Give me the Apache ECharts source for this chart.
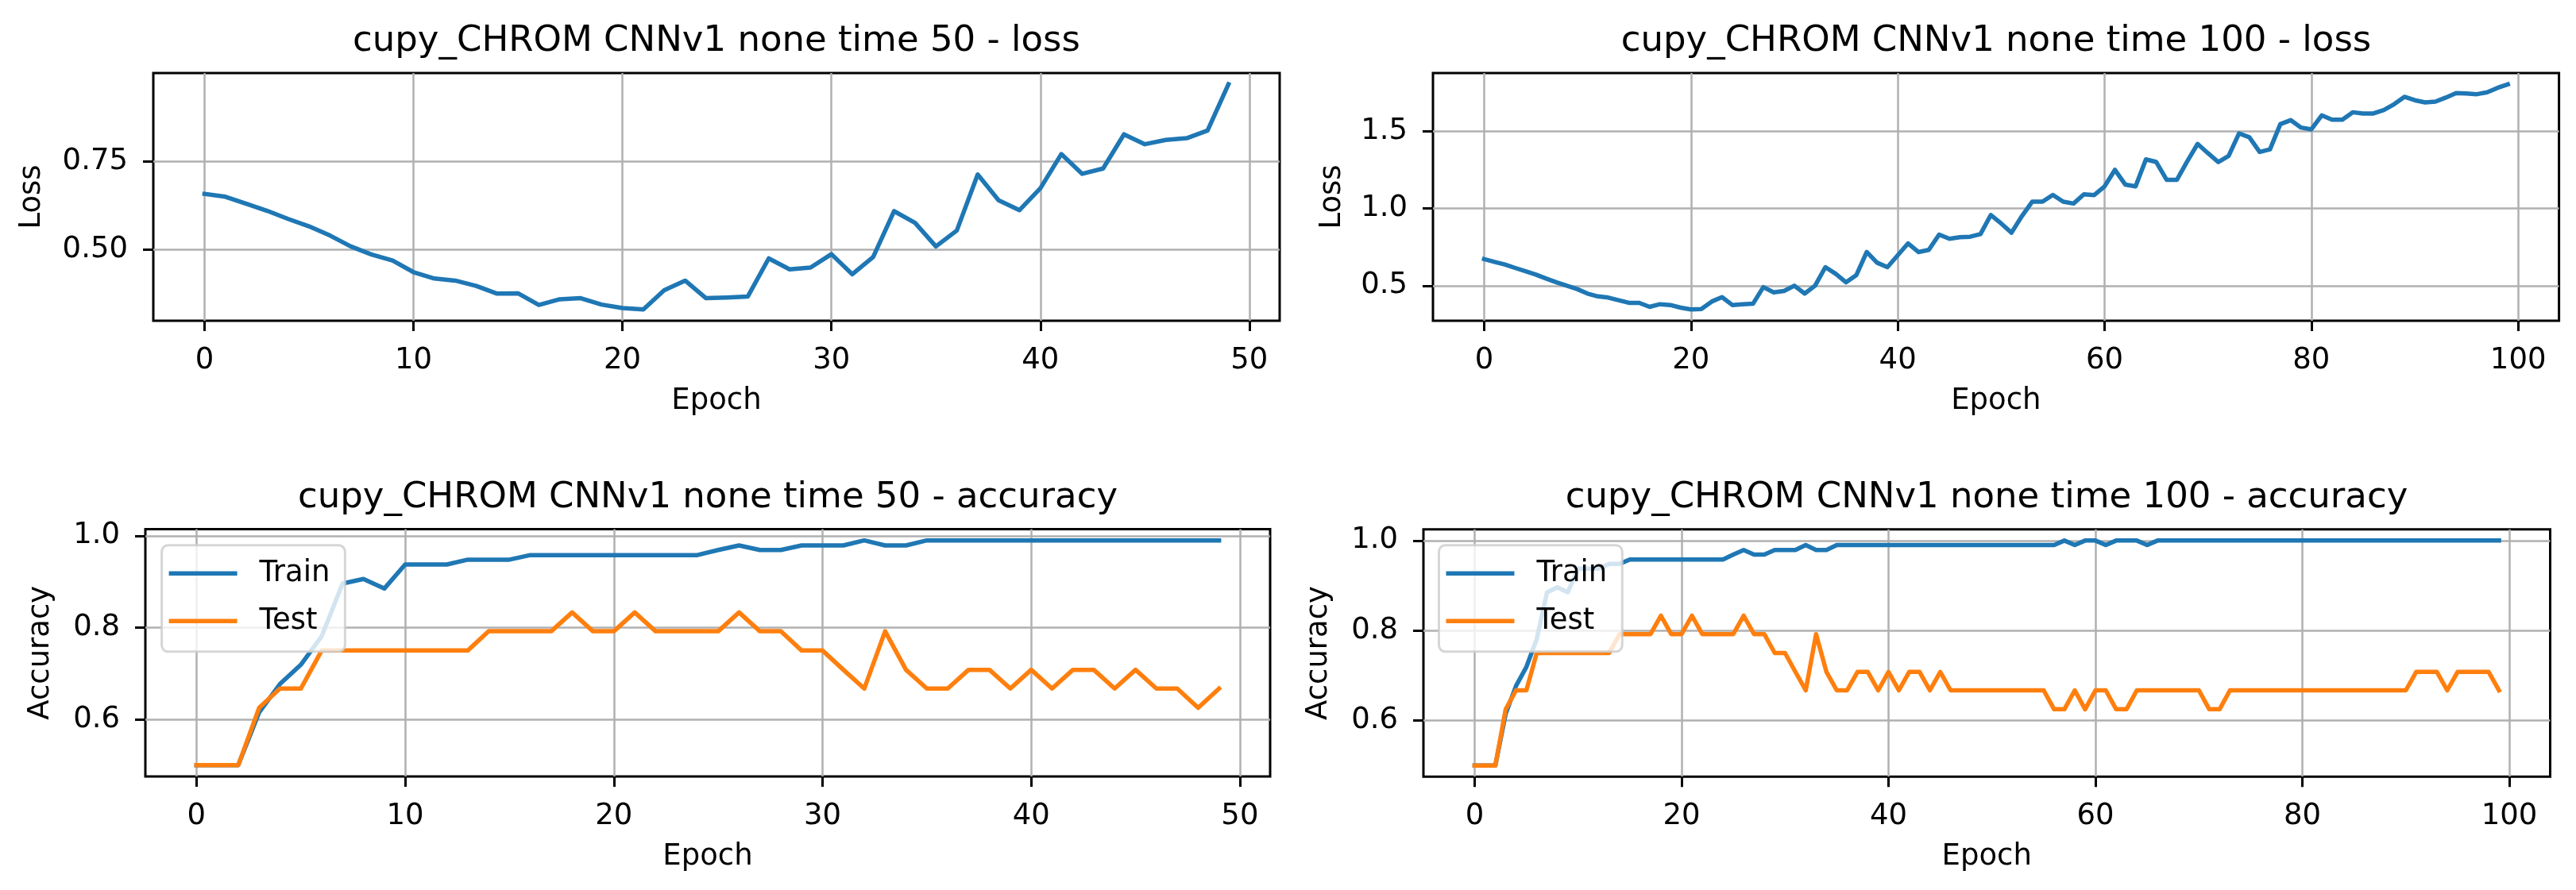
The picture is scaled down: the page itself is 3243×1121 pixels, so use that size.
<!DOCTYPE html>
<html><head><meta charset="utf-8">
<script src="https://cdn.jsdelivr.net/npm/echarts@6/dist/echarts.min.js"></script>
<style>html,body{margin:0;padding:0;background:#fff}#c{width:3243px;height:1121px}</style>
</head><body><div id="c"></div>
<script>
// ---------------- DATA ----------------
const titles = [
  'cupy_CHROM CNNv1 none time 50 - loss',
  'cupy_CHROM CNNv1 none time 100 - loss',
  'cupy_CHROM CNNv1 none time 50 - accuracy',
  'cupy_CHROM CNNv1 none time 100 - accuracy'
];
const xTicks50 = [0, 10, 20, 30, 40, 50];
const xTicks100 = [0, 20, 40, 60, 80, 100];
const yTicksLoss50 = [0.50, 0.75];
const yTicksLoss100 = [0.5, 1.0, 1.5];
const yTicksAcc = [0.6, 0.8, 1.0];

const loss50 = [0.658,0.650,0.630,0.610,0.587,0.566,0.540,0.509,0.486,0.469,
  0.436,0.418,0.412,0.397,0.375,0.376,0.343,0.359,0.362,0.344,
  0.334,0.330,0.385,0.412,0.362,0.364,0.367,0.475,0.444,0.449,
  0.487,0.430,0.479,0.609,0.576,0.509,0.554,0.713,0.640,0.612,
  0.674,0.771,0.715,0.730,0.827,0.799,0.811,0.816,0.838,0.969];

const loss100 = [0.672,0.654,0.637,0.615,0.594,0.572,0.546,0.522,0.500,0.478,
  0.449,0.431,0.423,0.406,0.389,0.389,0.363,0.380,0.375,0.358,
  0.346,0.349,0.397,0.426,0.375,0.380,0.383,0.491,0.457,0.466,
  0.500,0.449,0.500,0.620,0.577,0.522,0.569,0.718,0.649,0.620,
  0.697,0.774,0.718,0.732,0.831,0.804,0.814,0.817,0.834,0.958,
  0.903,0.843,0.950,1.044,1.044,1.088,1.044,1.032,1.092,1.087,
  1.143,1.250,1.155,1.143,1.318,1.301,1.186,1.186,1.306,1.418,
  1.358,1.301,1.340,1.486,1.461,1.366,1.383,1.546,1.572,1.524,
  1.512,1.603,1.575,1.575,1.623,1.615,1.615,1.637,1.675,1.723,
  1.701,1.687,1.692,1.718,1.747,1.744,1.740,1.752,1.781,1.804];

const train50 = [0.5,0.5,0.5,0.615,0.677,0.719,0.781,0.896,0.906,0.885,
  0.9375,0.9375,0.9375,0.948,0.948,0.948,0.958,0.958,0.958,0.958,
  0.958,0.958,0.958,0.958,0.958,0.969,0.979,0.969,0.969,0.979,
  0.979,0.979,0.990,0.979,0.979,0.990,0.990,0.990,0.990,0.990,
  0.990,0.990,0.990,0.990,0.990,0.990,0.990,0.990,0.990,0.990];

const test50 = [0.5,0.5,0.5,0.625,0.667,0.667,0.75,0.75,0.75,0.75,
  0.75,0.75,0.75,0.75,0.792,0.792,0.792,0.792,0.833,0.792,
  0.792,0.833,0.792,0.792,0.792,0.792,0.833,0.792,0.792,0.75,
  0.75,0.708,0.667,0.792,0.708,0.667,0.667,0.708,0.708,0.667,
  0.708,0.667,0.708,0.708,0.667,0.708,0.667,0.667,0.625,0.667];

const train100 = [0.5,0.5,0.5,0.615,0.677,0.719,0.781,0.885,0.896,0.885,
  0.9375,0.9375,0.9375,0.948,0.948,0.958,0.958,0.958,0.958,0.958,
  0.958,0.958,0.958,0.958,0.958,0.969,0.979,0.969,0.969,0.979,
  0.979,0.979,0.990,0.979,0.979,0.990,0.990,0.990,0.990,0.990,
  0.990,0.990,0.990,0.990,0.990,0.990,0.990,0.990,0.990,0.990,
  0.990,0.990,0.990,0.990,0.990,0.990,0.990,1.0,0.990,1.0,
  1.0,0.990,1.0,1.0,1.0,0.990,1.0,1.0,1.0,1.0,
  1.0,1.0,1.0,1.0,1.0,1.0,1.0,1.0,1.0,1.0,
  1.0,1.0,1.0,1.0,1.0,1.0,1.0,1.0,1.0,1.0,
  1.0,1.0,1.0,1.0,1.0,1.0,1.0,1.0,1.0,1.0];

const test100 = [0.5,0.5,0.5,0.625,0.667,0.667,0.75,0.75,0.75,0.75,
  0.75,0.75,0.75,0.75,0.792,0.792,0.792,0.792,0.833,0.792,
  0.792,0.833,0.792,0.792,0.792,0.792,0.833,0.792,0.792,0.75,
  0.75,0.708,0.667,0.792,0.708,0.667,0.667,0.708,0.708,0.667,
  0.708,0.667,0.708,0.708,0.667,0.708,0.667,0.667,0.667,0.667,
  0.667,0.667,0.667,0.667,0.667,0.667,0.625,0.625,0.667,0.625,
  0.667,0.667,0.625,0.625,0.667,0.667,0.667,0.667,0.667,0.667,
  0.667,0.625,0.625,0.667,0.667,0.667,0.667,0.667,0.667,0.667,
  0.667,0.667,0.667,0.667,0.667,0.667,0.667,0.667,0.667,0.667,
  0.667,0.708,0.708,0.708,0.667,0.708,0.708,0.708,0.708,0.667];

// ---------------- STYLE / LAYOUT ----------------
const FONT = 'DejaVu Sans';
const BLUE = '#1f77b4', ORANGE = '#ff7f0e';
const TICK_FS = 37, TITLE_FS = 45;

const panels = [
  {grid:{left:193, top:92, width:1418, height:312}, xTicks:xTicks50, yTicks:yTicksLoss50, yDec:2, yName:'Loss', yNameGap:134,
   series:[{name:'loss50', values:loss50, color:BLUE}], title:titles[0], tx:902, ty:52.4},
  {grid:{left:1804, top:92, width:1417.6, height:312}, xTicks:xTicks100, yTicks:yTicksLoss100, yDec:1, yName:'Loss', yNameGap:108,
   series:[{name:'loss100', values:loss100, color:BLUE}], title:titles[1], tx:2513, ty:52.4},
  {grid:{left:183, top:666.5, width:1416, height:311.5}, xTicks:xTicks50, yTicks:yTicksAcc, yDec:1, yName:'Accuracy', yNameGap:113,
   series:[{name:'Train', values:train50, color:BLUE},{name:'Test', values:test50, color:ORANGE}], title:titles[2], tx:891, ty:627,
   legend:{left:203.6, top:686.8}},
  {grid:{left:1792, top:666.7, width:1418.5, height:311.6}, xTicks:xTicks100, yTicks:yTicksAcc, yDec:1, yName:'Accuracy', yNameGap:113,
   series:[{name:'Train', values:train100, color:BLUE},{name:'Test', values:test100, color:ORANGE}], title:titles[3], tx:2501, ty:627,
   legend:{left:1811.5, top:686.7}}
];

const textBase = {fontFamily: FONT, fontSize: TICK_FS, color: '#000'};
const option = {animation:false, backgroundColor:'#fff', grid:[], xAxis:[], yAxis:[], series:[], legend:[], graphic:[]};

panels.forEach((p, i) => {
  const n = p.series[0].values.length;
  const xpad = 0.05 * (n - 1);
  let lo = Infinity, hi = -Infinity;
  p.series.forEach(s => s.values.forEach(v => { lo = Math.min(lo, v); hi = Math.max(hi, v); }));
  const ypad = 0.05 * (hi - lo);

  option.grid.push(Object.assign({show:true, borderColor:'#000', borderWidth:3, backgroundColor:'transparent', containLabel:false}, p.grid));

  option.xAxis.push({
    type:'value', gridIndex:i, min:-xpad, max:(n - 1) + xpad, position:'bottom',
    axisLine:{show:false, onZero:false},
    axisTick:{show:true, length:13, lineStyle:{color:'#000', width:3}, customValues:p.xTicks},
    axisLabel:Object.assign({customValues:p.xTicks, margin:32, formatter:v => String(Math.round(v))}, textBase),
    splitLine:{show:true, lineStyle:{color:'#b0b0b0', width:2.5}},
    name:'Epoch', nameLocation:'middle', nameGap:83, nameTextStyle:Object.assign({}, textBase)
  });
  option.yAxis.push({
    type:'value', gridIndex:i, min:lo - ypad, max:hi + ypad, position:'left',
    axisLine:{show:false, onZero:false},
    axisTick:{show:true, length:13, lineStyle:{color:'#000', width:3}, customValues:p.yTicks},
    axisLabel:Object.assign({customValues:p.yTicks, margin:32, formatter:v => Number(v).toFixed(p.yDec)}, textBase),
    splitLine:{show:true, lineStyle:{color:'#b0b0b0', width:2.5}},
    name:p.yName, nameLocation:'middle', nameGap:p.yNameGap, nameTextStyle:Object.assign({}, textBase)
  });
  p.series.forEach(s => {
    option.series.push({
      type:'line', name:s.name, xAxisIndex:i, yAxisIndex:i,
      data:s.values.map((v, k) => [k, v]),
      showSymbol:false, symbol:'none', clip:true,
      lineStyle:{color:s.color, width:5.5, join:'round', cap:'square'},
      itemStyle:{color:s.color}
    });
  });
  if (p.legend) {
    option.legend.push({
      data:['Train','Test'], orient:'vertical', left:p.legend.left, top:p.legend.top,
      icon:'rect', itemWidth:86, itemHeight:5.5, itemGap:23, selectedMode:false,
      padding:[17, 19, 20, 9],
      backgroundColor:'rgba(255,255,255,0.8)', borderColor:'rgba(204,204,204,0.8)', borderWidth:3, borderRadius:8,
      textStyle:{fontFamily:FONT, fontSize:TICK_FS, color:'#000', padding:[0,0,0,23]}
    });
  }
  option.graphic.push({
    type:'text', x:p.tx, y:p.ty, silent:true,
    style:{text:p.title, fontFamily:FONT, fontSize:TITLE_FS, fill:'#000', align:'center', verticalAlign:'middle'}
  });
});

const chart = echarts.init(document.getElementById('c'), null, {renderer:'canvas', width:3243, height:1121});
chart.setOption(option);
</script></body></html>
